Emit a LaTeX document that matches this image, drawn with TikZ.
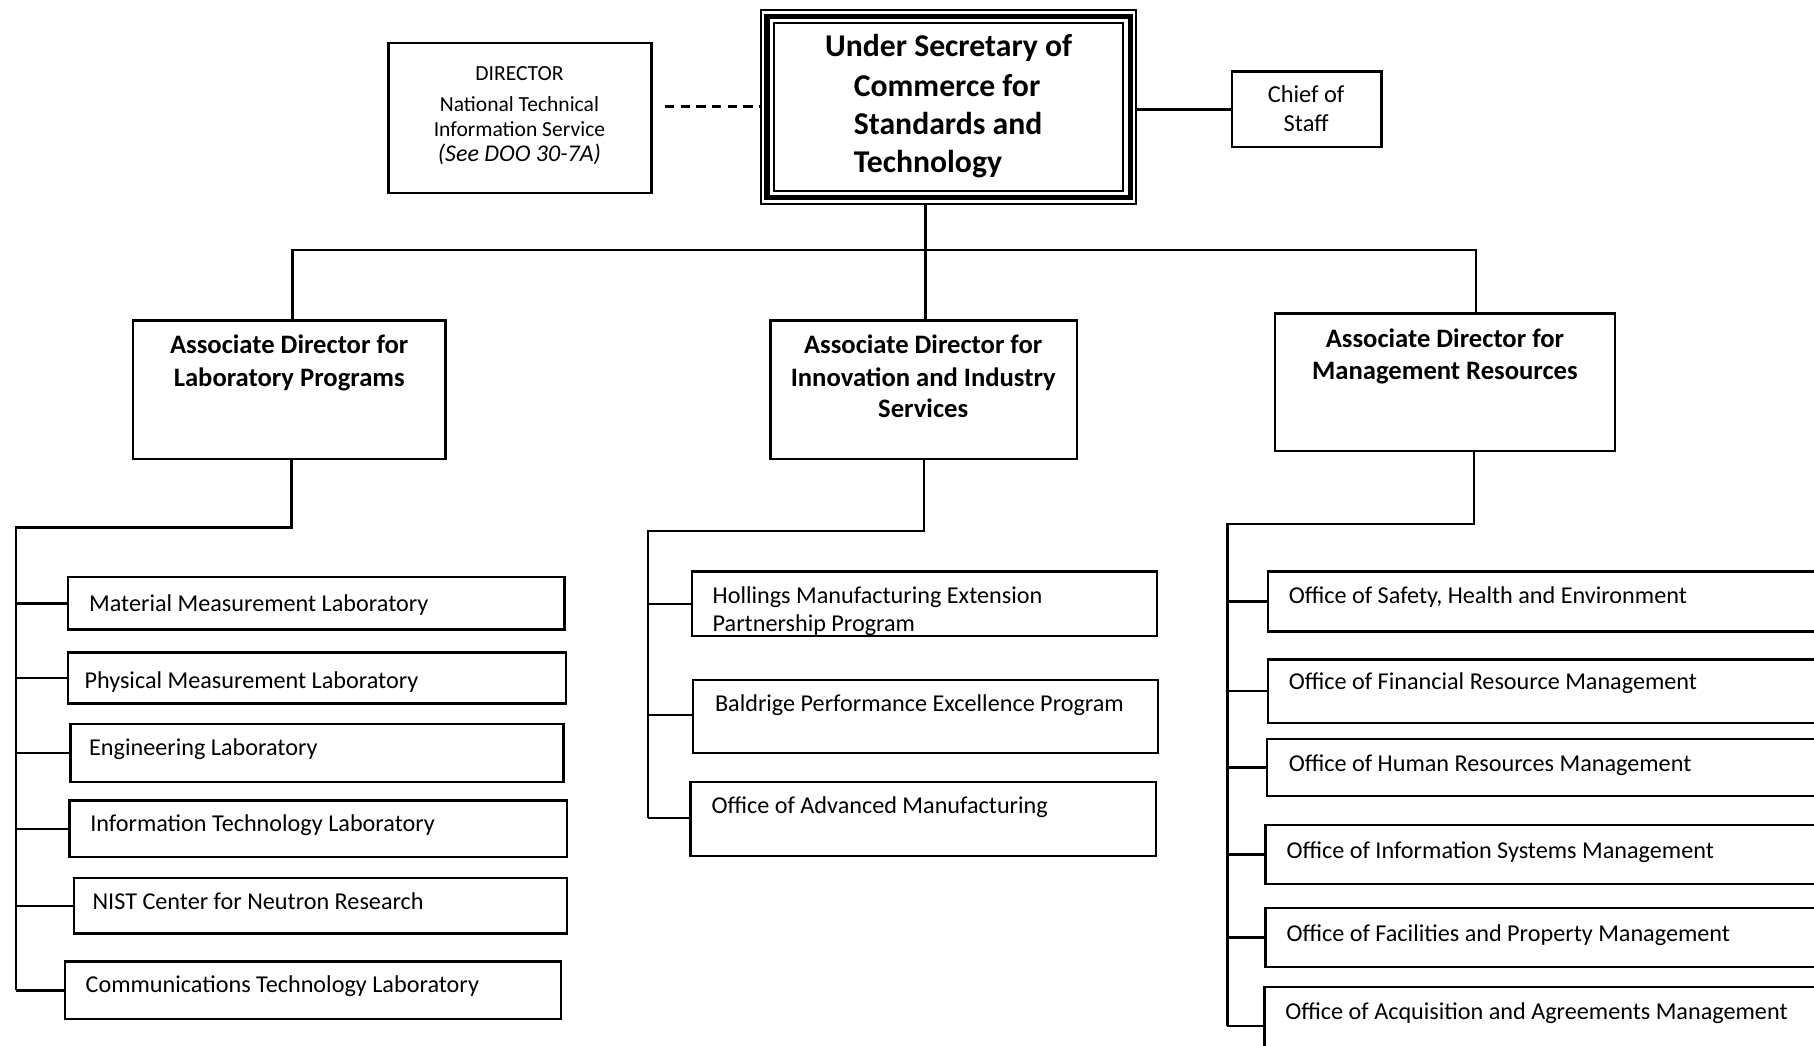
\documentclass[tikz,border=0pt]{standalone}
\usepackage{fontspec}
\setmainfont{Carlito}
\usetikzlibrary{fit}
\begin{document}
\begin{tikzpicture}[x=0.1mm,y=-0.1mm,line width=0.6pt,
  box/.style={draw,inner sep=0pt,outer sep=0pt,line width=0.6pt},
  txt/.style={font=\fontsize{5.95}{6.8}\selectfont,anchor=base west,inner sep=0pt},
  hd/.style={font=\fontsize{6.55}{8}\selectfont\bfseries,anchor=base,inner sep=0pt},
  ust/.style={font=\fontsize{7.8}{9.5}\selectfont\bfseries,inner sep=0pt},
  dtx/.style={font=\fontsize{5.3}{6.3}\selectfont,anchor=base,inner sep=0pt},
  ctx/.style={font=\fontsize{6}{7}\selectfont,anchor=base,inner sep=0pt},
  conn/.style={line width=0.6pt}]
\useasboundingbox (0,0) rectangle (1568,904);
\fill[white] (0,0) rectangle (1568,904);

% top box
\node[box,line width=0.5pt,fit={(658,9)(982,176)}] (us) {};
\draw[line width=1.3pt] ([shift={(5,5)}]us.north west) rectangle ([shift={(-5,-5)}]us.south east);
\draw[line width=0.5pt] ([shift={(11,11)}]us.north west) rectangle ([shift={(-11,-11)}]us.south east);
\node[ust,anchor=base] (us1) at (820,49) {Under Secretary of};
\node[ust,anchor=base west] (us2) at (737,83) {Commerce for};
\node[ust,anchor=base west] (us3) at (737,116) {Standards and};
\node[ust,anchor=base west] (us4) at (737,149) {Technology};

% director
\node[box,fit={(336,37)(563,167)}] (dir) {};
\node[dtx] (d1) at (449,70) {DIRECTOR};
\node[dtx] (d2) at (449,96) {National Technical};
\node[dtx] (d3) at (449,118) {Information Service};
\node[dtx,font=\fontsize{5.9}{6.3}\selectfont\itshape] (d4) at (449,140) {(See DOO 30-7A)};

% chief of staff
\node[box,fit={(1065,62)(1194,127)}] (cos) {};
\node[ctx] (c1) at (1129,89) {Chief of};
\node[ctx] (c2) at (1129,114) {Staff};

\draw[conn,dash pattern=on 0.8mm off 0.55mm] (dir.east |- 0,92) ++(12,0) -- (us.west |- 0,92);
\draw[conn] (us.east |- cos.west) -- (cos.west);

% associate directors
\node[box,fit={(115,277)(385,397)}] (lab) {};
\node[hd] (l1) at (250,306) {Associate Director for};
\node[hd] (l2) at (250,334) {Laboratory Programs};
\node[box,fit={(666,277)(931,397)}] (inn) {};
\node[hd] (n1) at (798,306) {Associate Director for};
\node[hd] (n2) at (798,334) {Innovation and Industry};
\node[hd] (n3) at (798,361) {Services};
\node[box,fit={(1102,271)(1396,390)}] (mgt) {};
\node[hd] (g01) at (1249,300) {Associate Director for};
\node[hd] (g02) at (1249,328) {Management Resources};

\coordinate (bus) at (800,216);
\coordinate (mtop) at (1276,271);
\draw[conn] (inn.north -| bus) -- (us.south -| bus);
\draw[conn] (lab.north -| 253,0) |- (mtop |- bus) -- (mtop);

% laboratory units
\node[box,fit={(59,499)(488,544)}] (m1) {};
\node[txt] (t1) at (76,529) {Material Measurement Laboratory};
\node[box,fit={(59,564)(489,608)}] (m2) {};
\node[txt] (t2) at (72,595) {Physical Measurement Laboratory};
\node[box,fit={(61,626)(487,676)}] (m3) {};
\node[txt] (t3) at (76,653) {Engineering Laboratory};
\node[box,fit={(60,692)(490,741)}] (m4) {};
\node[txt] (t4) at (77,719) {Information Technology Laboratory};
\node[box,fit={(64,759)(490,807)}] (m5) {};
\node[txt] (t5) at (79,786) {NIST Center for Neutron Research};
\node[box,fit={(56,831)(485,881)}] (m6) {};
\node[txt] (t6) at (73,858) {Communications Technology Laboratory};

\coordinate (lbus) at (14,456);
\draw[conn] (lab.south -| 252,0) |- (lbus) -- (lbus |- m6.west);
\foreach \b in {m1,m2,m3,m4,m5,m6} \draw[conn] (lbus |- \b.west) -- (\b.west);

% innovation units
\node[box,fit={(598,494)(1000,550)}] (i1) {};
\node[txt] (s1a) at (615,522) {Hollings Manufacturing Extension};
\node[txt] (s1b) at (615,546) {Partnership Program};
\node[box,fit={(599,588)(1001,651)}] (i2) {};
\node[txt] (s2) at (617,615) {Baldrige Performance Excellence Program};
\node[box,fit={(597,676)(999,740)}] (i3) {};
\node[txt] (s3) at (614,703) {Office of Advanced Manufacturing};

\coordinate (ibus) at (560,459);
\draw[conn] (inn.south) |- (ibus) -- (ibus |- 0,707);
\draw[conn] (ibus |- 0,522) -- (i1.west |- 0,522);
\draw[conn] (ibus |- 0,618) -- (i2.west |- 0,618);
\draw[conn] (ibus |- 0,707) -- (i3.west |- 0,707);

% management units
\node[box,fit={(1096,494)(1580,546)}] (g1) {};
\node[txt] (u1) at (1113,522) {Office of Safety, Health and Environment};
\node[box,fit={(1096,570)(1580,625)}] (g2) {};
\node[txt] (u2) at (1113,596) {Office of Financial Resource Management};
\node[box,fit={(1095,639)(1580,688)}] (g3) {};
\node[txt] (u3) at (1113,667) {Office of Human Resources Management};
\node[box,fit={(1094,713)(1580,764)}] (g4) {};
\node[txt] (u4) at (1111,742) {Office of Information Systems Management};
\node[box,fit={(1094,785)(1580,836)}] (g5) {};
\node[txt] (u5) at (1111,814) {Office of Facilities and Property Management};
\node[box,fit={(1093,853)(1580,921)}] (g6) {};
\node[txt] (u6) at (1110,881) {Office of Acquisition and Agreements Management};

\coordinate (mbot) at (1274,390);
\coordinate (gbus) at (1061,453);
\draw[conn] (mbot) |- (gbus) -- (gbus |- g6.west);
\foreach \b in {g1,g2,g3,g4,g5,g6} \draw[conn] (gbus |- \b.west) -- (\b.west);
\end{tikzpicture}
\end{document}
